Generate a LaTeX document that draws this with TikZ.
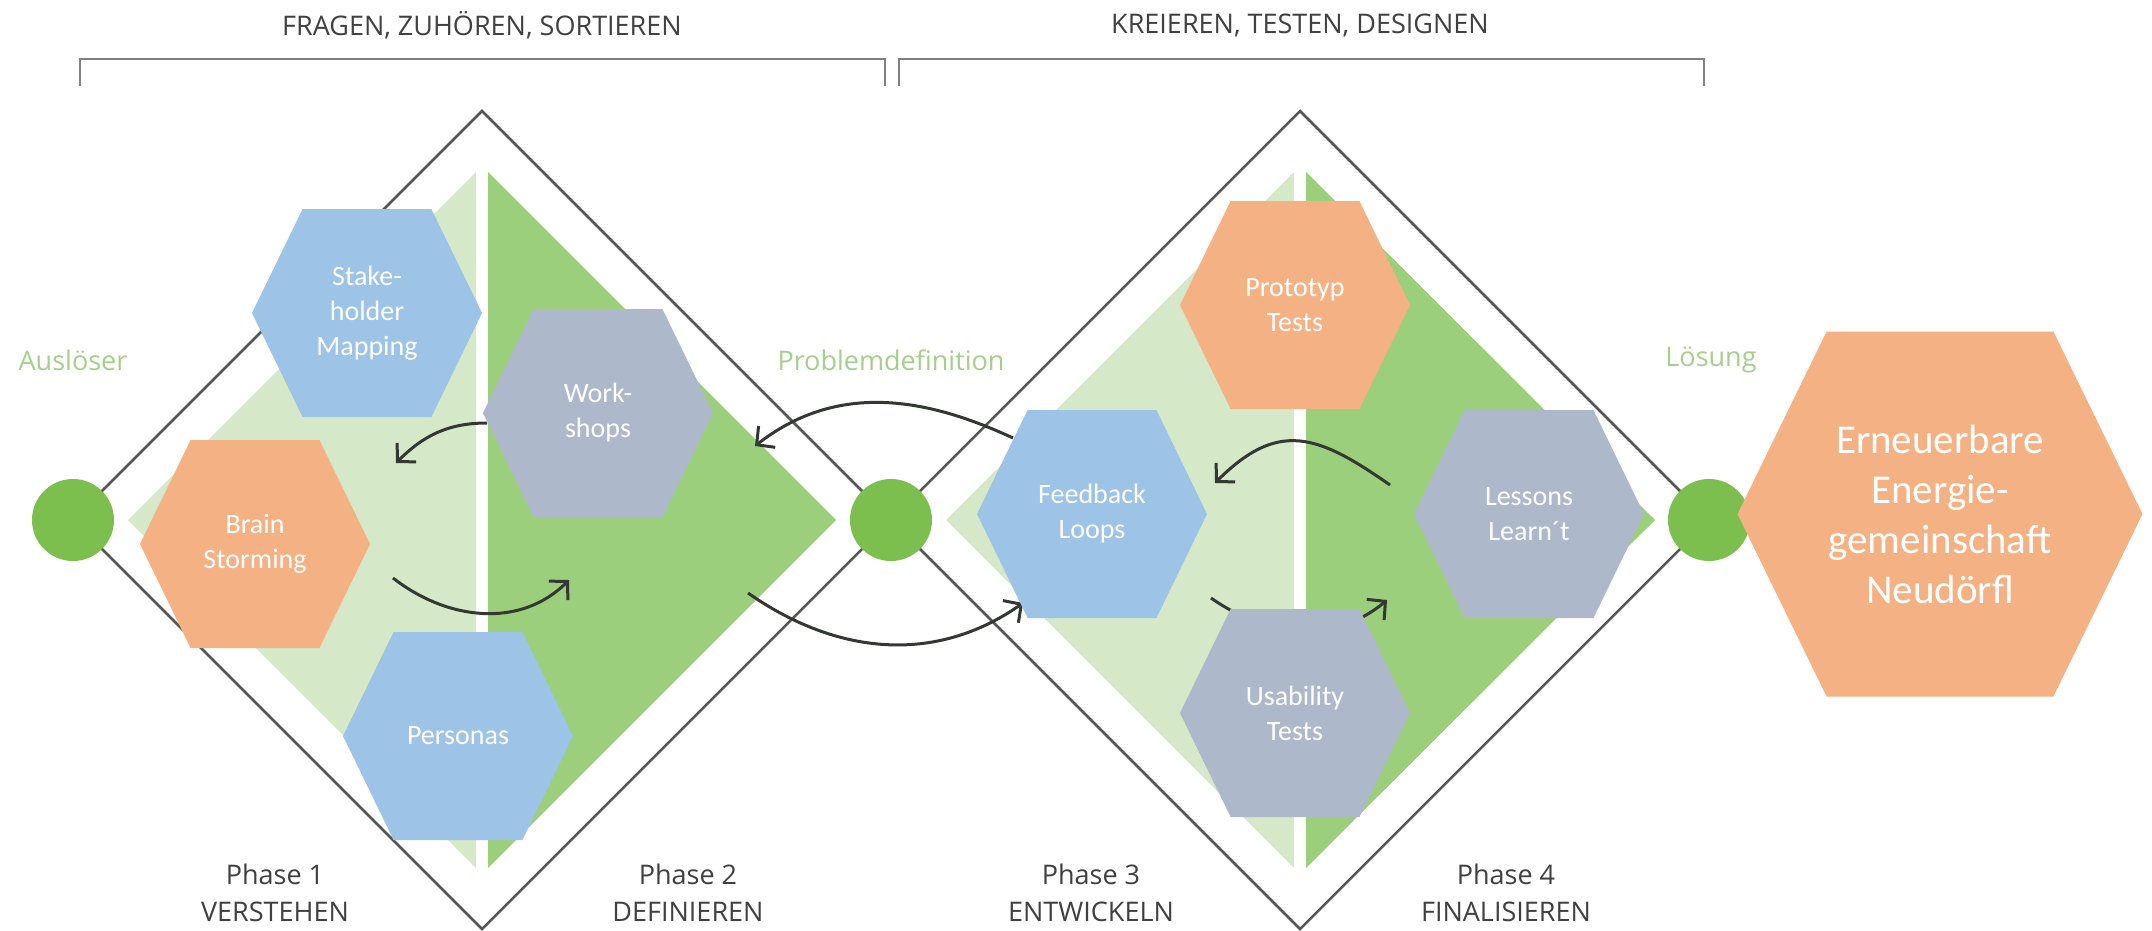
\documentclass[tikz,border=0pt]{standalone}
\usepackage{fontspec}
\setmainfont{Open Sans}
\newfontfamily\hexfont{Carlito}
\usetikzlibrary{calc,arrows.meta}

\definecolor{hexblue}{HTML}{9DC3E6}
\definecolor{hexgray}{HTML}{ADB9CA}
\definecolor{hexorange}{HTML}{F4B183}
\definecolor{palegreen}{HTML}{D5E8C8}
\definecolor{midgreen}{HTML}{9BCF7B}
\definecolor{dotgreen}{HTML}{7CBF4E}
\definecolor{labelgreen}{HTML}{A6CF8C}
\definecolor{linegray}{HTML}{555555}
\definecolor{textgray}{HTML}{404040}
\definecolor{arrowgray}{HTML}{333833}

\begin{document}
\begin{tikzpicture}[x=1pt,y=1pt,
    flow/.style={-{Straight Barb[length=13pt,width=27pt]},line width=3pt,arrowgray},
    hex/.style={minimum width=230pt,minimum height=208pt,inner sep=0pt,
      text=white,align=center,font=\hexfont\fontsize{28}{35}\selectfont,
      path picture={\fill[#1] (path picture bounding box.west)
        -- ($(path picture bounding box.north west)!0.22!(path picture bounding box.north east)$)
        -- ($(path picture bounding box.north east)!0.22!(path picture bounding box.north west)$)
        -- (path picture bounding box.east)
        -- ($(path picture bounding box.south east)!0.22!(path picture bounding box.south west)$)
        -- ($(path picture bounding box.south west)!0.22!(path picture bounding box.south east)$)
        -- cycle;}}]
  \tikzstyle{title}=[textgray,font=\fontsize{27}{32}\selectfont]
  \tikzstyle{phase}=[textgray,align=center,font=\fontsize{27}{37}\selectfont]
  \tikzstyle{milestone}=[labelgreen,font=\fontsize{27}{32}\selectfont]
  \tikzstyle{dot}=[circle,fill=dotgreen,minimum size=82pt,inner sep=0pt]
  \tikzstyle{outline}=[linegray,line width=2.5pt,line join=miter]
  \tikzstyle{brk}=[gray,line width=2.5pt]

  \fill[white] (0,0) rectangle (2152,-930);
  \useasboundingbox (0,0) rectangle (2152,-930);

  % brackets and headings
  \node[title] (head1) at (482,-25) {FRAGEN, ZUHÖREN, SORTIEREN};
  \node[title] (head2) at (1300,-25) {KREIEREN, TESTEN, DESIGNEN};
  \draw[brk] (80,-86) -- (80,-59) -- (885,-59) -- (885,-86);
  \draw[brk] (899,-86) -- (899,-59) -- (1704,-59) -- (1704,-86);

  % green halves
  \fill[palegreen] (476,-172) -- (128,-520) -- (476,-868) -- cycle;
  \fill[midgreen]  (488,-172) -- (836,-520) -- (488,-868) -- cycle;
  \fill[palegreen] (1294,-172) -- (946,-520) -- (1294,-868) -- cycle;
  \fill[midgreen]  (1306,-172) -- (1655,-520) -- (1306,-868) -- cycle;

  % diamonds
  \draw[outline] (73,-520) -- (482,-111) -- (891,-520) -- (482,-929) -- cycle;
  \draw[outline] (891,-520) -- (1300,-111) -- (1709,-520) -- (1300,-929) -- cycle;

  \node[dot] (ausl) at (73,-520) {};
  \node[dot] (probl) at (891,-520) {};
  \node[dot] (loes) at (1709,-520) {};

  \node[milestone] (auslT) at (73,-360) {Auslöser};
  \node[milestone] (problT) at (891,-360) {Problemdefinition};
  \node[milestone] (loesT) at (1711,-360) {Lösung};

  % arrows
  \coordinate (a1) at (487,-423);  \coordinate (b1) at (396,-463);
  \coordinate (a2) at (393,-578);  \coordinate (b2) at (569,-580);
  \coordinate (a3) at (748,-593);  \coordinate (b3) at (1023,-603);
  \coordinate (a4) at (1013,-438); \coordinate (b4) at (755,-446);
  \coordinate (a5) at (1390,-485); \coordinate (b5) at (1215,-483);
  \coordinate (a6) at (1211,-598); \coordinate (b6) at (1387,-600);
  \draw[flow] (a1) to[out=180,in=45] (b1);
  \draw[flow] (a2) to[out=-38,in=225] (b2);
  \draw[flow] (a3) to[out=-35,in=215] (b3);
  \draw[flow] (a4) to[out=155,in=38] (b4);
  \draw[flow] (a5) to[out=145,in=45,looseness=1.3] (b5);
  \draw[flow] (a6) to[out=-35,in=220] (b6);

  % methods
  \node[hex=hexblue]   (stake) at (367,-313)  {Stake-\\holder\\Mapping};
  \node[hex=hexgray]   (work)  at (598,-413)  {Work-\\shops};
  \node[hex=hexorange] (brain) at (255,-544)  {Brain\\Storming};
  \node[hex=hexblue]   (pers)  at (458,-736)  {Personas};
  \node[hex=hexorange] (proto) at (1295,-305) {Prototyp\\Tests};
  \node[hex=hexblue]   (feed)  at (1092,-514) {Feedback\\Loops};
  \node[hex=hexgray]   (less)  at (1529,-514) {Lessons\\Learn´t};
  \node[hex=hexgray]   (usab)  at (1295,-713) {Usability\\Tests};
  \node[hex=hexorange,minimum width=405pt,minimum height=365pt,
        font=\hexfont\fontsize{41}{50}\selectfont] (eeg) at (1940,-514)
        {Erneuerbare\\Energie-\\gemeinschaft\\Neudörfl};

  \node[phase] (ph1) at (275,-893)  {Phase 1\\VERSTEHEN};
  \node[phase] (ph2) at (688,-893)  {Phase 2\\DEFINIEREN};
  \node[phase] (ph3) at (1091,-893) {Phase 3\\ENTWICKELN};
  \node[phase] (ph4) at (1506,-893) {Phase 4\\FINALISIEREN};
\end{tikzpicture}
\end{document}
